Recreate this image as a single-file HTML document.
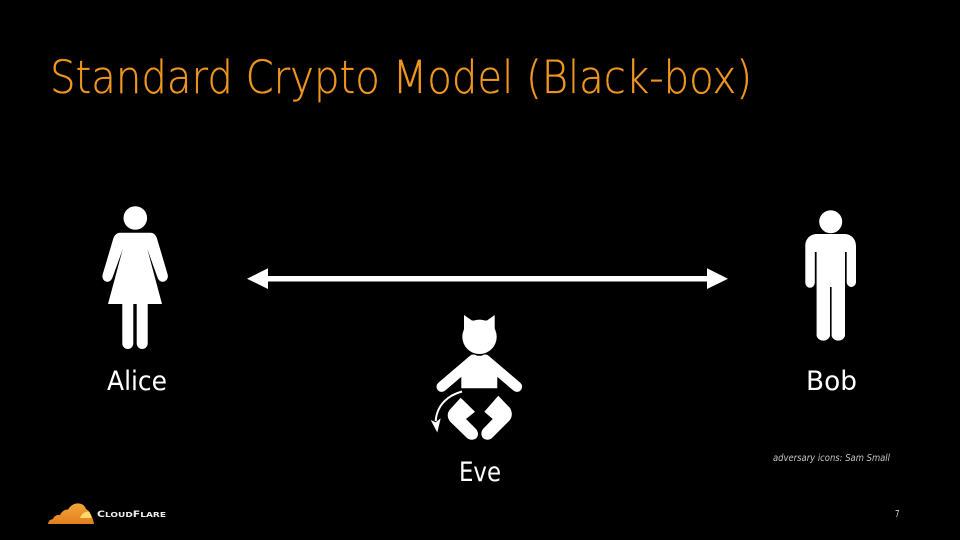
<!DOCTYPE html>
<html><head><meta charset="utf-8"><style>
html,body{margin:0;padding:0;background:#000}
svg{display:block}
text{font-family:"DejaVu Sans","Liberation Sans",sans-serif}
</style></head><body>
<svg width="960" height="540" viewBox="0 0 960 540" xmlns="http://www.w3.org/2000/svg">
<rect width="960" height="540" fill="#000"/>
<text x="50" y="93" font-size="45" font-weight="200" fill="#ef961f" stroke="#ef961f" stroke-width="0.35" textLength="702" lengthAdjust="spacingAndGlyphs">Standard Crypto Model (Black-box)</text>

<!-- Alice -->
<g fill="#fff">
<circle cx="135.300" cy="218" r="11.800"/>
<path d="M120 232.700H150.500C153.500 232.700 156 235 157 238.500L167.500 274C168.800 278 166.500 281 163.500 281.700C160.500 282.300 158.500 280 157.500 277.500L147.300 249L162 304H108L122.800 249L112.500 277.500C111.500 280 109.500 282.300 106.500 281.700C103.500 281 101.500 278 102.800 274L113.300 238.500C114.500 235 117 232.700 120 232.700Z"/>
<path d="M122.300 304H133.300V343.500A5.500 5.500 0 0 1 122.300 343.500Z"/>
<path d="M136.700 304H147.700V343.500A5.500 5.500 0 0 1 136.700 343.500Z"/>
</g>
<text x="107" y="390" font-size="27" fill="#fff" textLength="60" lengthAdjust="spacingAndGlyphs">Alice</text>

<!-- Bob -->
<g fill="#fff">
<circle cx="830.700" cy="221.700" r="11.500"/>
<path d="M817 234H844.500C851 234 856 239 856 246V282.500A4.700 5.200 0 0 1 846.700 282.500V252H845V336A7 6.500 0 0 1 831.600 336V287H830V336A7 6.500 0 0 1 816.600 336V252H814.800V282.500A4.700 5.200 0 0 1 805.300 282.500V246C805.300 239 810 234 817 234Z"/>
</g>
<text x="806" y="390" font-size="27" fill="#fff" textLength="51" lengthAdjust="spacingAndGlyphs">Bob</text>

<!-- Arrow -->
<g fill="#fff">
<rect x="262" y="276" width="452" height="5.500"/>
<path d="M247 278.700L268 268.300V289Z"/>
<path d="M728 278.700L707 268.300V289Z"/>
</g>

<!-- Eve -->
<g fill="#fff">
<circle cx="479.500" cy="336.800" r="17.200"/>
<path d="M464 315L472 320.500H487L494.700 315V332H464Z"/>
<path d="M470 355.700H488.500L497.300 376.700V388.300H461.300V376.700Z"/>
<path d="M473.400 359.700L441.700 386.700" fill="none" stroke="#fff" stroke-width="10.400" stroke-linecap="round"/>
<path d="M485.200 359.700L516.900 386.700" fill="none" stroke="#fff" stroke-width="10.400" stroke-linecap="round"/>
<path d="M460.700 397.700L475 411.700L466 419L476 429C479.500 433 478 438 474.500 439.300C471 440.300 468.500 439.500 466.500 437.500L450.500 422C447 418 447 413.500 449.500 410Z"/>
<path d="M498.300 395.700L510 408C512.500 412 512.500 417 509.500 420.500L492.500 437.500C490.500 439.500 488 440.300 485 439.300C481.500 438 480 433 483 429L492.700 419L484.300 411.700Z"/>
<path d="M462 391.500C449 395 437 404 435.700 421" fill="none" stroke="#fff" stroke-width="2"/>
<path d="M437.300 432.500L430.700 420L435.700 422.300L440.700 418.300Z"/>
</g>
<text x="459" y="481" font-size="27" fill="#fff" textLength="42" lengthAdjust="spacingAndGlyphs">Eve</text>

<!-- Footnote -->
<text x="773" y="461" font-size="10" font-style="italic" fill="#c4c4c4" textLength="117" lengthAdjust="spacingAndGlyphs">adversary icons: Sam Small</text>
<text x="895" y="517" font-size="9.500" fill="#d8d8d8" textLength="4.500" lengthAdjust="spacingAndGlyphs">7</text>

<!-- Logo -->
<defs><linearGradient id="g" x1="0" y1="0" x2="0" y2="1"><stop offset="0" stop-color="#f2a63c"/><stop offset="1" stop-color="#e27f1e"/></linearGradient></defs>
<path d="M48 524C48.500 521 50 519.500 53 519C54 516 57 514.500 60 515C62 511 65 509.500 68 509.500C71 505 75 503 79 503.500C83 504 85 506 86 509C90 511 93 518 94 524Z" fill="url(#g)"/>
<path d="M80 518C81.500 514 84.500 511.500 89 511.500C90.500 513.500 91 516 91.500 518Z" fill="#ffd968"/>
<text x="97" y="517" font-size="7" font-weight="bold" fill="#ececec" textLength="69" lengthAdjust="spacingAndGlyphs"><tspan font-size="8.500">C</tspan>LOUD<tspan font-size="8.500">F</tspan>LARE</text>
</svg>
</body></html>
